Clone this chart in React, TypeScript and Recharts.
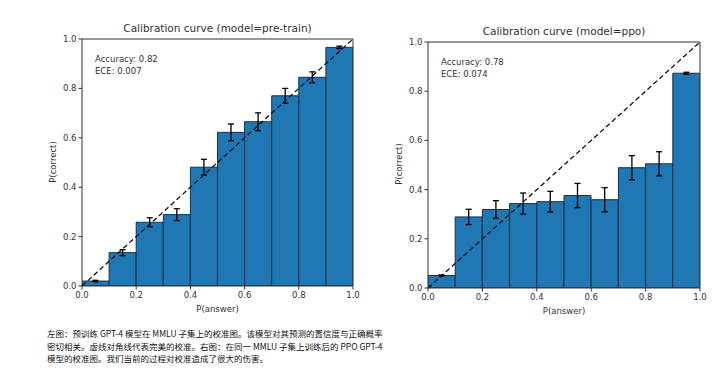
import {
	Bar,
	ComposedChart,
	ErrorBar,
	ReferenceLine,
	XAxis,
	YAxis,
} from "recharts";

// bin centres and values
const bins = [0.05, 0.15, 0.25, 0.35, 0.45, 0.55, 0.65, 0.75, 0.85, 0.95];
const pretrainAcc = [0.02, 0.135, 0.258, 0.289, 0.481, 0.622, 0.665, 0.77, 0.845, 0.966];
const pretrainErr = [0.003, 0.012, 0.018, 0.024, 0.032, 0.034, 0.036, 0.03, 0.022, 0.005];
const ppoAcc = [0.051, 0.289, 0.319, 0.343, 0.351, 0.376, 0.359, 0.489, 0.505, 0.873];
const ppoErr = [0.002, 0.031, 0.036, 0.043, 0.042, 0.049, 0.049, 0.049, 0.049, 0.004];
const ticks = [0, 0.2, 0.4, 0.6, 0.8, 1.0];

const FONT = "'DejaVu Sans', sans-serif";
const TEXT = "#333";
const SPINE = "#333";
const tickStyle = { fontSize: 8.5, fill: TEXT, fontFamily: FONT };

type PanelProps = {
	title: string;
	acc: number[];
	err: number[];
	accuracy: string;
	ece: string;
	left: number;
	width: number;
	height: number;
	margin: { top: number; right: number; bottom: number; left: number };
};

function CalibrationPanel({ title, acc, err, accuracy, ece, left, width, height, margin }: PanelProps) {
	const data = bins.map((b, i) => ({ x: b, y: acc[i], err: err[i] }));
	const plotLeft = margin.left + 30;
	const plotRight = width - margin.right;
	const plotBottom = height - margin.bottom - 30;
	const cx = (plotLeft + plotRight) / 2;
	return (
		<div style={{ position: "absolute", left, top: 0, width, height, fontFamily: FONT, color: TEXT }}>
			<ComposedChart width={width} height={height} data={data} margin={margin} barCategoryGap={0}>
				<XAxis
					dataKey="x"
					type="number"
					domain={[0, 1]}
					ticks={ticks}
					tickFormatter={(v: number) => v.toFixed(1)}
					tick={tickStyle}
					tickSize={3.5}
					tickLine={{ stroke: SPINE }}
					axisLine={{ stroke: SPINE }}
					height={30}
					allowDataOverflow
				/>
				<YAxis
					type="number"
					domain={[0, 1]}
					ticks={ticks}
					tickFormatter={(v: number) => v.toFixed(1)}
					tick={tickStyle}
					tickSize={3.5}
					tickLine={{ stroke: SPINE }}
					axisLine={{ stroke: SPINE }}
					width={30}
					allowDataOverflow
				/>
				<Bar
					dataKey="y"
					fill="#1f77b4"
					stroke="#14334a"
					strokeWidth={1}
					isAnimationActive={false}
				>
					<ErrorBar dataKey="err" direction="y" width={3} stroke="#000" strokeWidth={1.3} />
				</Bar>
				{/* perfect calibration */}
				<ReferenceLine
					segment={[
						{ x: 0, y: 0 },
						{ x: 1, y: 1 },
					]}
					stroke="#111"
					strokeWidth={1.3}
					strokeDasharray="5 3"
				/>
				{/* top and right spines */}
				<ReferenceLine y={1} stroke={SPINE} strokeWidth={1} />
				<ReferenceLine x={1} stroke={SPINE} strokeWidth={1} />
			</ComposedChart>
			<div
				style={{
					position: "absolute",
					left: 0,
					width: width,
					paddingLeft: plotLeft,
					paddingRight: width - plotRight,
					boxSizing: "border-box",
					top: margin.top - 17,
					textAlign: "center",
					fontSize: 10.5,
				}}
			>
				{title}
			</div>
			<div style={{ position: "absolute", left: plotLeft + 13, top: margin.top + 14, fontSize: 8.5, lineHeight: "12px" }}>
				<div>Accuracy: {accuracy}</div>
				<div>ECE: {ece}</div>
			</div>
			<div
				style={{
					position: "absolute",
					left: cx - 40,
					width: 80,
					top: plotBottom + 18,
					textAlign: "center",
					fontSize: 8.5,
				}}
			>
				P(answer)
			</div>
			<div
				style={{
					position: "absolute",
					left: plotLeft - 69,
					width: 80,
					top: (margin.top + plotBottom) / 2 - 6,
					textAlign: "center",
					fontSize: 8.5,
					transform: "rotate(-90deg)",
				}}
			>
				P(correct)
			</div>
		</div>
	);
}

const captionLines = [
	"左图：预训练 GPT-4 模型在 MMLU 子集上的校准图。该模型对其预测的置信度与正确概率",
	"密切相关。虚线对角线代表完美的校准。右图：在同一 MMLU 子集上训练后的 PPO GPT-4",
	"模型的校准图。我们当前的过程对校准造成了很大的伤害。",
];

export default function App() {
	return (
		<div style={{ position: "absolute", left: 0, top: 0, width: 727, height: 385, background: "#fff", overflow: "hidden" }}>
			<CalibrationPanel
				title="Calibration curve (model=pre-train)"
				acc={pretrainAcc}
				err={pretrainErr}
				accuracy="0.82"
				ece="0.007"
				left={0}
				width={380}
				height={330}
				margin={{ top: 39, right: 27, bottom: 14, left: 52 }}
			/>
			<CalibrationPanel
				title="Calibration curve (model=ppo)"
				acc={ppoAcc}
				err={ppoErr}
				accuracy="0.78"
				ece="0.074"
				left={360}
				width={365}
				height={332}
				margin={{ top: 42, right: 25, bottom: 14, left: 38 }}
			/>
			<div
				style={{
					position: "absolute",
					left: 47,
					top: 327,
					fontSize: 8.5,
					lineHeight: "12.5px",
					fontFamily: "'Noto Sans CJK SC', sans-serif",
					color: "#111",
					whiteSpace: "nowrap",
				}}
			>
				{captionLines.map((l) => (
					<div key={l}>{l}</div>
				))}
			</div>
		</div>
	);
}
